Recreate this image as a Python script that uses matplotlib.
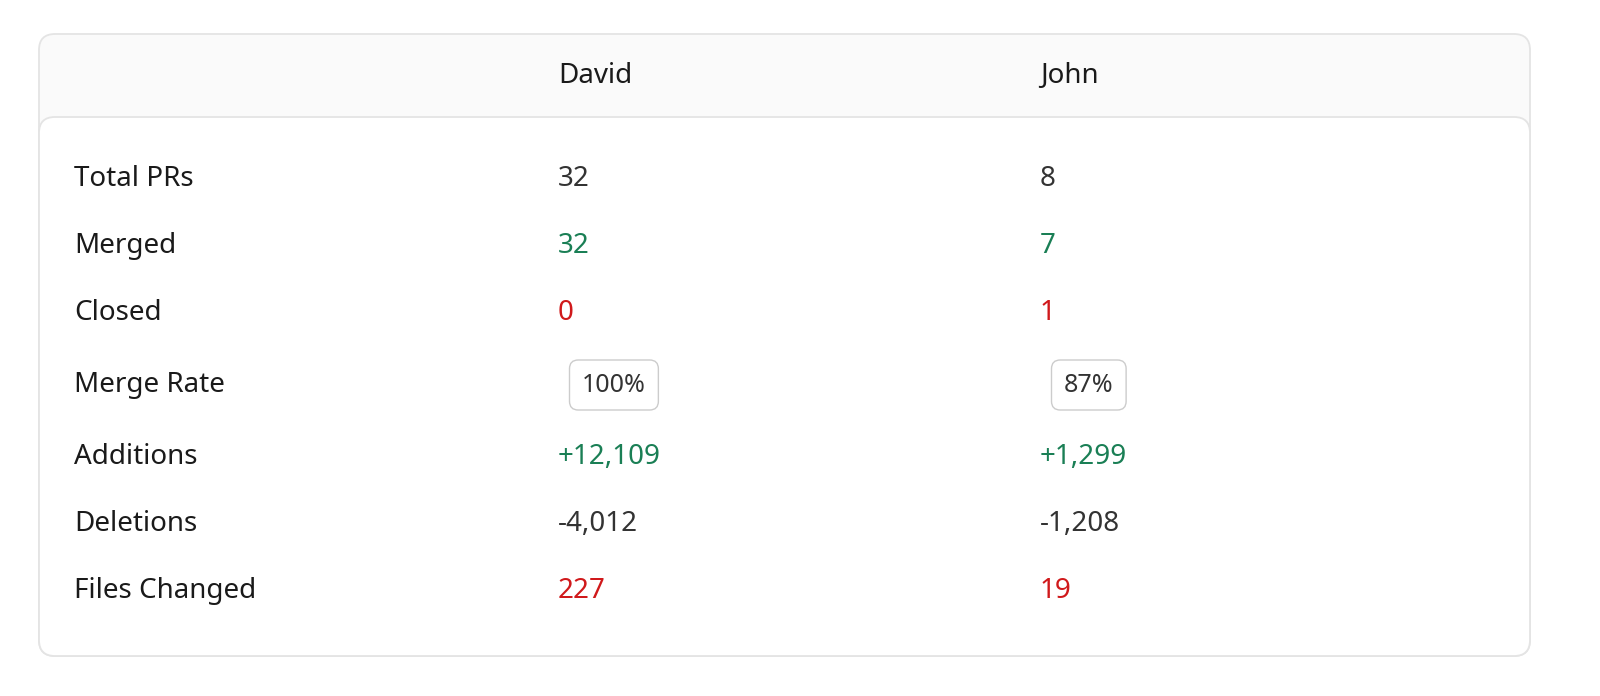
import matplotlib.pyplot as plt
from matplotlib.patches import FancyBboxPatch

people = ["David", "John"]
metrics = ["Total PRs", "Merged", "Closed", "Merge Rate", "Additions", "Deletions", "Files Changed"]
david = ["32", "32", "0", "100%", "+12,109", "-4,012", "227"]
john = ["8", "7", "1", "87%", "+1,299", "-1,208", "19"]
kinds = ["plain", "good", "bad", "badge", "good", "plain", "bad"]

colors = {"plain": "#333333", "good": "#1a7f55", "bad": "#d0191b", "badge": "#333333"}
plt.rcParams["font.family"] = ["Noto Sans", "DejaVu Sans"]

fig = plt.figure(figsize=(16, 6.96), dpi=100)
ax = fig.add_axes([0, 0, 1, 1])
ax.set_xlim(0, 1600)
ax.set_ylim(696, 0)
ax.axis("off")

# outer card + header band
ax.add_patch(FancyBboxPatch((39, 34), 1491, 622, boxstyle="round,pad=0,rounding_size=16",
                            fc="#fafafa", ec="#e4e4e4", lw=1.3))
ax.add_patch(FancyBboxPatch((39, 117), 1491, 539, boxstyle="round,pad=0,rounding_size=16",
                            fc="white", ec="#e4e4e4", lw=1.3))

col_x = [558, 1040]
for x, name in zip(col_x, people):
    ax.text(x, 76, name, fontsize=20, fontweight="bold", color="#1a1a1a", va="center")

row_y = [179, 246, 313, 385, 457, 524, 591]
for y, m, d, j, k in zip(row_y, metrics, david, john, kinds):
    ax.text(74, y, m, fontsize=20, color="#1a1a1a", va="center")
    for x, v in zip(col_x, [d, j]):
        if k == "badge":
            ax.text(x + 24, y, v, fontsize=18, color=colors[k], va="center",
                    bbox=dict(boxstyle="round,pad=0.5,rounding_size=0.35", fc="white", ec="#cccccc", lw=1))
        else:
            ax.text(x, y, v, fontsize=20, color=colors[k], va="center")

fig.savefig("out.png", dpi=100, facecolor="white")
